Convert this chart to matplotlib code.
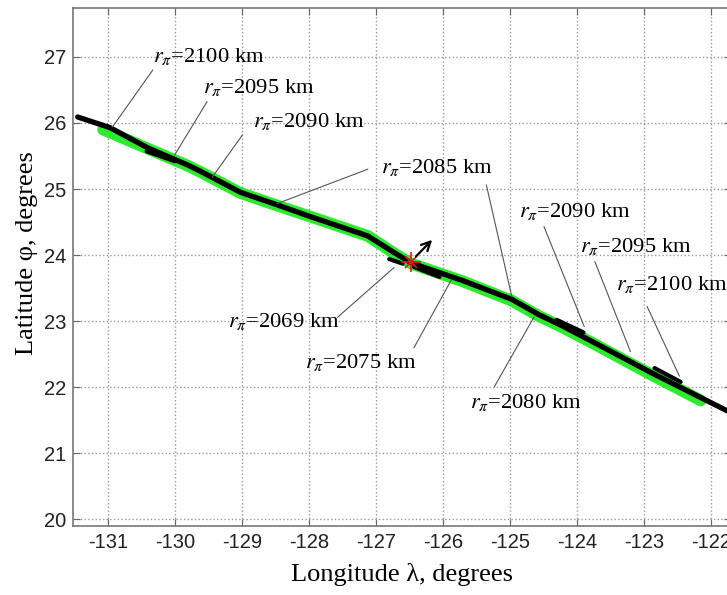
import numpy as np
import matplotlib.pyplot as plt

# ground track of the periapsis
track_lon = [-131.45, -130.97, -130.4, -129.8, -129.62, -129.02, -128.5, -127.97,
             -127.12, -126.73, -126.47, -125.72, -124.97, -124.57, -124.22,
             -123.73, -122.87, -121.75]
track_lat = [26.09, 25.93, 25.62, 25.36, 25.27, 24.95, 24.77, 24.58,
             24.29, 24.04, 23.88, 23.62, 23.33, 23.1, 22.93,
             22.67, 22.21, 21.64]

# green spread of points
green_lon = [-131.07, -130.4, -129.8, -129.62, -129.02, -128.5, -127.97, -127.12,
             -126.73, -126.47, -125.72, -124.97, -124.57, -124.22, -123.73,
             -122.87, -122.15]
green_lat = [25.9, 25.61, 25.35, 25.26, 24.94, 24.76, 24.58, 24.29,
             24.03, 23.87, 23.61, 23.31, 23.08, 22.91, 22.65,
             22.18, 21.8]

# short offset black pieces
extra_segments = [
    ([-130.42, -130.0], [25.57, 25.42]),
    ([-126.8, -126.6], [23.94, 23.87]),
    ([-126.43, -126.05], [23.82, 23.67]),
    ([-124.3, -123.9], [23.02, 22.83]),
    ([-122.84, -122.45], [22.29, 22.08]),
]

star_lon, star_lat = -126.47, 23.89
arrow_start = (-126.43, 23.95)
arrow_end = (-126.13, 24.26)

# label text position, and the points each leader joins (from, to)
labels = [
    ("2100", (-130.33, 27.0), [((-130.33, 26.8), (-130.93, 25.94))]),
    ("2095", (-129.58, 26.53), [((-129.52, 26.32), (-130.0, 25.52))]),
    ("2090", (-128.84, 26.02), [((-128.99, 25.82), (-129.44, 25.18))]),
    ("2085", (-126.92, 25.32), [((-127.12, 25.3), (-128.47, 24.78)),
                                ((-125.35, 25.06), (-124.97, 23.37))]),
    ("2069", (-129.2, 23.0), [((-127.57, 23.06), (-126.73, 23.81))]),
    ("2075", (-128.05, 22.38), [((-126.43, 22.6), (-125.87, 23.63))]),
    ("2080", (-125.6, 21.77), [((-125.23, 22.01), (-124.64, 23.06))]),
    ("2090", (-124.87, 24.66), [((-124.49, 24.43), (-123.89, 22.92))]),
    ("2095", (-123.95, 24.13), [((-123.73, 23.9), (-123.2, 22.54))]),
    ("2100", (-123.41, 23.56), [((-122.95, 23.22), (-122.47, 22.17))]),
]

xticks = list(range(-131, -121))
yticks = list(range(20, 28))

plt.rcParams['mathtext.fontset'] = 'stix'

fig = plt.figure(figsize=(7.27, 5.95), dpi=100)
ax = fig.add_axes([0.1004, 0.116, 0.905, 0.8706])

ax.plot(green_lon, green_lat, color='#2eea2e', lw=8.5, solid_capstyle='round', zorder=2)
ax.plot(track_lon, track_lat, color='black', lw=3.8, solid_capstyle='round', zorder=3)
for seg_lon, seg_lat in extra_segments:
    ax.plot(seg_lon, seg_lat, color='black', lw=3.0, solid_capstyle='round', zorder=3)

ax.plot(star_lon, star_lat, marker='+', color='#d62020', ms=14, mew=1.2, zorder=5)
ax.plot(star_lon, star_lat, marker='x', color='#d62020', ms=9, mew=1.2, zorder=5)
ax.annotate('', xy=arrow_end, xytext=arrow_start,
            arrowprops=dict(arrowstyle='->', color='black', lw=1.6,
                            mutation_scale=16), zorder=6)

for val, pos, leaders in labels:
    for (x0, y0), (x1, y1) in leaders:
        ax.plot([x0, x1], [y0, y1], color='#555555', lw=0.8, zorder=4)
    ax.text(pos[0], pos[1], r'$r_\pi$=' + val + ' km', fontsize=16.2,
            family='Liberation Serif', ha='left', va='center', zorder=7)

ax.set_xlim(-131.52, -121.7)
ax.set_ylim(19.9, 27.74)
ax.set_xticks(xticks)
ax.set_yticks(yticks)
ax.set_xticklabels([str(t) for t in xticks], family='Liberation Sans', fontsize=14.5)
ax.set_yticklabels([str(t) for t in yticks], family='Liberation Sans', fontsize=14.5)
ax.tick_params(direction='in', top=True, right=True, length=5, color='#666666',
               colors='#222222', pad=5)
ax.grid(True, linestyle=':', color='#999999', lw=1)
for sp in ax.spines.values():
    sp.set_color('#777777')
    sp.set_linewidth(1.2)

ax.set_xlabel('Longitude λ, degrees', family='Liberation Serif', fontsize=19,
              labelpad=8)
ax.set_ylabel('Latitude φ, degrees', family='Liberation Serif', fontsize=19)
ax.yaxis.set_label_coords(-0.053, 0.527)

fig.savefig('out.png', dpi=100)
